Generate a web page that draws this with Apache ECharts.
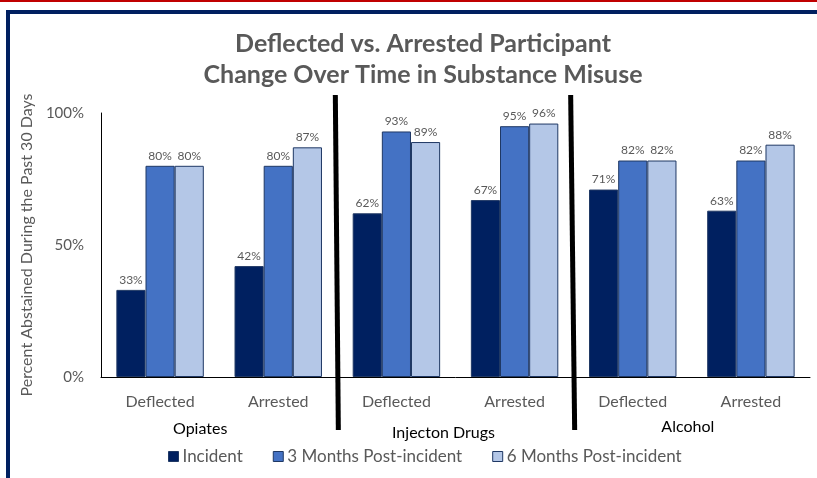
<!DOCTYPE html>
<html>
<head>
<meta charset="utf-8">
<script src="https://cdn.jsdelivr.net/npm/echarts@6/dist/echarts.min.js"></script>
<style>
  html, body { margin: 0; padding: 0; background: #fff; }
  #main { width: 817px; height: 478px; }
</style>
</head>
<body>
<div id="main"></div>
<script>
// data
const categories = ['Deflected', 'Arrested', 'Deflected', 'Arrested', 'Deflected', 'Arrested'];
const groups = ['Opiates', 'Injecton Drugs', 'Alcohol'];
const incident = [33, 42, 62, 67, 71, 63];
const months3 = [80, 80, 93, 95, 82, 82];
const months6 = [80, 87, 89, 96, 82, 88];
const seriesNames = ['Incident', '3 Months Post-incident', '6 Months Post-incident'];
const yTicks = [0, 50, 100];

const font = 'Lato';
const grey = '#595959';
const edge = '#1F3864';
// the group captions in the original sit a little off-centre
const groupPad = [[2, 38, 0, 0], [6, 24, 0, 0], [0, 8, 0, 0]];

const chart = echarts.init(document.getElementById('main'));

function bar(name, data, color) {
  return {
    name: name,
    type: 'bar',
    data: data,
    barGap: '0%',
    barCategoryGap: '26%',
    itemStyle: { color: color, borderColor: edge, borderWidth: 1 },
    label: {
      show: true,
      position: 'top',
      distance: 4,
      formatter: '{c}%',
      color: grey,
      fontSize: 12,
      fontFamily: font
    }
  };
}

chart.setOption({
  animation: false,
  textStyle: { fontFamily: font },
  title: {
    text: 'Deflected vs. Arrested Participant\nChange Over Time in Substance Misuse',
    left: 418,
    textAlign: 'center',
    top: 23,
    textStyle: { color: grey, fontSize: 25, fontWeight: 'bold', lineHeight: 31, fontFamily: font }
  },
  legend: {
    data: seriesNames,
    bottom: 8,
    left: 163,
    icon: 'rect',
    itemWidth: 10,
    itemHeight: 10,
    itemGap: 30,
    itemStyle: { borderColor: edge, borderWidth: 1 },
    textStyle: { color: grey, fontSize: 17, fontFamily: font, padding: [0, 0, 0, -1] }
  },
  grid: { left: 101, right: 7, top: 113, bottom: 101 },
  xAxis: [
    {
      type: 'category',
      data: categories,
      axisLine: { lineStyle: { color: '#000', width: 1 } },
      axisTick: { show: false },
      axisLabel: { color: grey, fontSize: 16, margin: 17, fontFamily: font }
    },
    {
      type: 'category',
      data: groups.map((g, i) => ({ value: g, textStyle: { padding: groupPad[i] } })),
      position: 'bottom',
      offset: 34,
      axisLine: { show: false },
      axisTick: { show: false },
      axisLabel: { color: '#000', fontSize: 16, fontFamily: font }
    }
  ],
  yAxis: {
    type: 'value',
    min: yTicks[0],
    max: yTicks[yTicks.length - 1],
    interval: yTicks[1] - yTicks[0],
    name: 'Percent Abstained During the Past 30 Days',
    nameLocation: 'middle',
    nameGap: 61,
    nameTextStyle: { color: grey, fontSize: 16, fontFamily: font },
    axisLine: { show: true, lineStyle: { color: '#000', width: 1 } },
    axisTick: { show: false },
    splitLine: { show: false },
    axisLabel: { color: grey, fontSize: 15, margin: 17, formatter: '{value}%', fontFamily: font }
  },
  series: [
    bar(seriesNames[0], incident, '#002060'),
    bar(seriesNames[1], months3, '#4472C4'),
    bar(seriesNames[2], months6, '#B4C7E7')
  ]
});

// frame and the thick separators between substance groups
function drawDecor() {
  const x1 = chart.convertToPixel({ xAxisIndex: 0 }, 1);
  const x2 = chart.convertToPixel({ xAxisIndex: 0 }, 2);
  const x3 = chart.convertToPixel({ xAxisIndex: 0 }, 3);
  const x4 = chart.convertToPixel({ xAxisIndex: 0 }, 4);
  const sepA = (x1 + x2) / 2 - 2;
  const sepB = (x3 + x4) / 2 - 1;
  chart.setOption({
    graphic: [
      { type: 'rect', shape: { x: 0, y: 0, width: 817, height: 2 }, style: { fill: '#C00000' } },
      { type: 'rect', shape: { x: 6, y: 10, width: 811, height: 4 }, style: { fill: '#002060' } },
      { type: 'rect', shape: { x: 6, y: 10, width: 4, height: 468 }, style: { fill: '#002060' } },
      { type: 'line', shape: { x1: sepA, y1: 95, x2: sepA + 3, y2: 430 }, style: { stroke: '#000', lineWidth: 5 } },
      { type: 'line', shape: { x1: sepB - 2, y1: 95, x2: sepB + 2, y2: 430 }, style: { stroke: '#000', lineWidth: 5 } }
    ]
  });
}
drawDecor();
</script>
</body>
</html>
